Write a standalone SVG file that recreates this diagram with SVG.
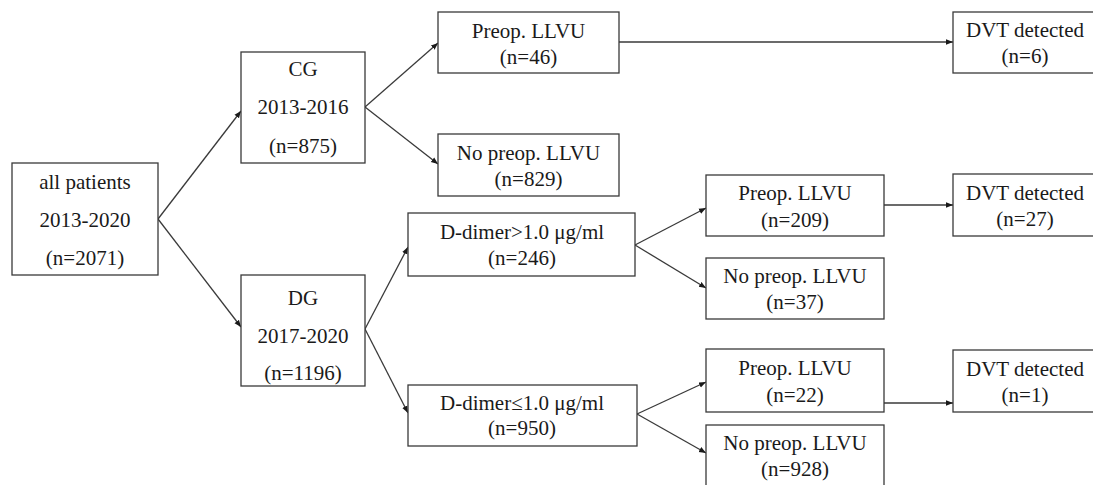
<svg xmlns="http://www.w3.org/2000/svg" width="1093" height="485" viewBox="0 0 1093 485">
<style>
.box{fill:#fff;stroke:#3a3a3a;stroke-width:1.3}
.t{font-family:"Liberation Serif","DejaVu Serif",serif;font-size:21px;fill:#1a1a1a;text-anchor:middle}
.c{fill:none;stroke:#3a3a3a;stroke-width:1.3;marker-end:url(#ah)}
</style>
<defs>
<marker id="ah" viewBox="0 0 10 10" refX="10" refY="5" markerWidth="7" markerHeight="7" markerUnits="userSpaceOnUse" orient="auto">
<path d="M0,1 L10,5 L0,9 z" fill="#1a1a1a"/>
</marker>
</defs>
<rect width="1093" height="485" fill="#fff"/>
<g id="connectors">
<line class="c" x1="158" y1="219" x2="241" y2="111"/>
<line class="c" x1="158" y1="219" x2="241" y2="327"/>
<line class="c" x1="365" y1="107" x2="438" y2="43"/>
<line class="c" x1="365" y1="107" x2="438" y2="164"/>
<line class="c" x1="365" y1="329" x2="408" y2="247"/>
<line class="c" x1="365" y1="329" x2="408" y2="413"/>
<line class="c" x1="619" y1="42" x2="953" y2="42"/>
<line class="c" x1="635" y1="245" x2="706" y2="208"/>
<line class="c" x1="635" y1="245" x2="706" y2="288"/>
<line class="c" x1="637" y1="414" x2="706" y2="382"/>
<line class="c" x1="637" y1="414" x2="706" y2="453"/>
<line class="c" x1="884" y1="205" x2="953" y2="205"/>
<line class="c" x1="884" y1="403" x2="953" y2="403"/>
</g>
<g id="all">
<rect class="box" x="12" y="163" width="146" height="112"/>
<text class="t" x="85" y="189">all patients</text>
<text class="t" x="85" y="227">2013-2020</text>
<text class="t" x="85" y="265">(n=2071)</text>
</g>
<g id="cg">
<rect class="box" x="241" y="52" width="124" height="111"/>
<text class="t" x="303" y="76">CG</text>
<text class="t" x="303" y="114">2013-2016</text>
<text class="t" x="303" y="153">(n=875)</text>
</g>
<g id="dg">
<rect class="box" x="241" y="275" width="124" height="111"/>
<text class="t" x="303" y="305">DG</text>
<text class="t" x="303" y="343">2017-2020</text>
<text class="t" x="303" y="380">(n=1196)</text>
</g>
<g id="cg-preop">
<rect class="box" x="438" y="12" width="181" height="61"/>
<text class="t" x="528.5" y="38">Preop. LLVU</text>
<text class="t" x="528.5" y="64">(n=46)</text>
</g>
<g id="cg-nopreop">
<rect class="box" x="438" y="134" width="181" height="62"/>
<text class="t" x="528.5" y="160">No preop. LLVU</text>
<text class="t" x="528.5" y="186">(n=829)</text>
</g>
<g id="dhigh">
<rect class="box" x="408" y="213" width="227" height="63"/>
<text class="t" x="522" y="239">D-dimer&gt;1.0 μg/ml</text>
<text class="t" x="522" y="265">(n=246)</text>
</g>
<g id="dlow">
<rect class="box" x="408" y="385" width="229" height="61"/>
<text class="t" x="522" y="410">D-dimer≤1.0 μg/ml</text>
<text class="t" x="522" y="435">(n=950)</text>
</g>
<g id="dhigh-preop">
<rect class="box" x="706" y="175" width="178" height="61"/>
<text class="t" x="795" y="200">Preop. LLVU</text>
<text class="t" x="795" y="227">(n=209)</text>
</g>
<g id="dhigh-nopreop">
<rect class="box" x="706" y="258" width="178" height="61"/>
<text class="t" x="795" y="283">No preop. LLVU</text>
<text class="t" x="795" y="309">(n=37)</text>
</g>
<g id="dlow-preop">
<rect class="box" x="706" y="349" width="178" height="63"/>
<text class="t" x="795" y="375">Preop. LLVU</text>
<text class="t" x="795" y="402">(n=22)</text>
</g>
<g id="dlow-nopreop">
<rect class="box" x="706" y="425" width="178" height="70"/>
<text class="t" x="795" y="450">No preop. LLVU</text>
<text class="t" x="795" y="476">(n=928)</text>
</g>
<g id="dvt1">
<rect class="box" x="953" y="12" width="150" height="61"/>
<text class="t" x="1025" y="37">DVT detected</text>
<text class="t" x="1025" y="63">(n=6)</text>
</g>
<g id="dvt2">
<rect class="box" x="953" y="174" width="150" height="62"/>
<text class="t" x="1025" y="200">DVT detected</text>
<text class="t" x="1025" y="226">(n=27)</text>
</g>
<g id="dvt3">
<rect class="box" x="953" y="350" width="150" height="62"/>
<text class="t" x="1025" y="376">DVT detected</text>
<text class="t" x="1025" y="402">(n=1)</text>
</g>
</svg>
